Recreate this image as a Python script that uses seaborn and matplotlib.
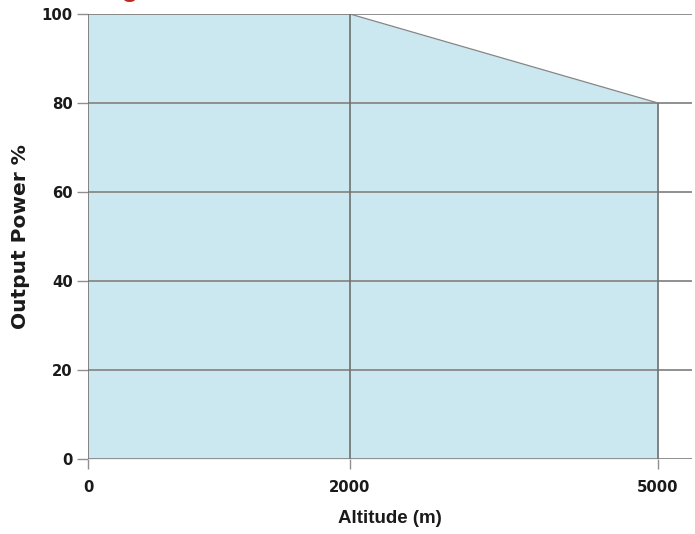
import numpy as np
import matplotlib
matplotlib.use("Agg")
import matplotlib.pyplot as plt
import seaborn as sns
import pandas as pd

# altitude derating curve
altitude = [0, 2000, 5000]
output_power = [100, 100, 80]
x_ticks = [0, 2000, 5000]
y_ticks = [0, 20, 40, 60, 80, 100]

df = pd.DataFrame({"Altitude": altitude, "Power": output_power})

sns.set_style("white")
plt.rcParams["font.family"] = ["DejaVu Sans"]
plt.rcParams["text.color"] = "#1a1a1a"

fig = plt.figure(figsize=(6.95, 5.34), dpi=100)
ax = fig.add_axes([88 / 695, 1 - 459 / 534, 604 / 695, 445 / 534])

# uneven spacing of the drawing: 0-2000 is shorter than 2000-5000
seg = [0, 262, 570]
def fwd(x):
    x = np.asarray(x, dtype=float)
    return np.where(x <= 2000, x * seg[1] / 2000, seg[1] + (x - 2000) * (seg[2] - seg[1]) / 3000)
def inv(p):
    p = np.asarray(p, dtype=float)
    return np.where(p <= seg[1], p * 2000 / seg[1], 2000 + (p - seg[1]) * 3000 / (seg[2] - seg[1]))
ax.set_xscale("function", functions=(fwd, inv))

ax.fill_between(df["Altitude"], 0, df["Power"], color="#cbe8f1", lw=0, zorder=1)
sns.lineplot(data=df, x="Altitude", y="Power", ax=ax, color="#858585", lw=0.9, zorder=3)
ax.vlines(df["Altitude"], 0, df["Power"], color="#707070", lw=1.2, zorder=3)
for y in y_ticks:
    ax.axhline(y, color="#8f8f8f", lw=1.4, zorder=2)

ax.set_xlim(0, inv(604).item())
ax.set_ylim(0, 100)
ax.set_xticks(x_ticks)
ax.set_yticks(y_ticks)
ax.set_xticklabels([str(v) for v in x_ticks], fontweight="bold", fontsize=10.7, color="#1a1a1a")
ax.set_yticklabels([str(v) for v in y_ticks], fontweight="bold", fontsize=10.7, color="#1a1a1a")
ax.tick_params(axis="x", direction="out", bottom=True, length=7, width=1, color="#8f8f8f", pad=8)
ax.tick_params(axis="y", direction="out", left=True, length=8, width=1, color="#8f8f8f", pad=3)
ax.xaxis.set_minor_locator(matplotlib.ticker.NullLocator())
for s in ax.spines.values():
    s.set_visible(False)

ax.set_xlabel("Altitude (m)", fontsize=13.5, fontweight="bold", color="#1a1a1a",
              family=["Liberation Sans", "DejaVu Sans"])
ax.xaxis.set_label_coords(0.5 + (390 - 88 - 302) / 604, (459 - 510) / 445)
ax.set_ylabel("Output Power %", fontsize=14.5, fontweight="bold", color="#1a1a1a", labelpad=8)

# clipped red heading above the chart
fig.text(139 / 695, 1.0 + 4 / 534, "Derating", color="#c0281e", fontsize=20,
         fontweight="bold", ha="right", va="baseline", family=["Liberation Sans"])

fig.savefig("out.png", dpi=100)
